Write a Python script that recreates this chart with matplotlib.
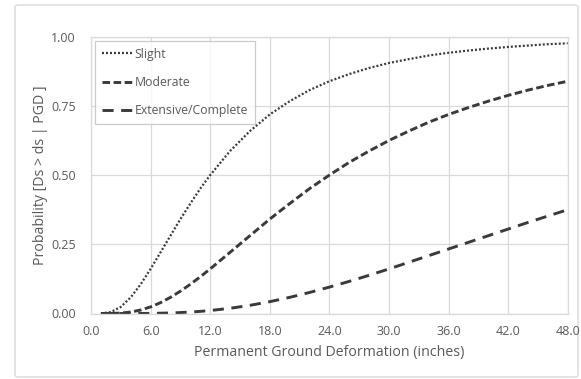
import matplotlib
matplotlib.use("Agg")
import matplotlib.pyplot as plt
from matplotlib.patches import FancyBboxPatch

# Permanent ground deformation (inches) and probability of reaching each damage state
pgd = [1, 2, 3, 4, 5, 6, 7, 8, 9, 10, 11, 12, 14, 16, 18, 20, 22, 24, 26, 28,
       30, 32, 34, 36, 38, 40, 42, 44, 46, 48]

slight = [0.0002, 0.0052, 0.0238, 0.0583, 0.1055, 0.161, 0.221, 0.281, 0.341,
          0.397, 0.451, 0.500, 0.587, 0.659, 0.719, 0.767, 0.807, 0.839, 0.865,
          0.887, 0.905, 0.919, 0.932, 0.942, 0.950, 0.957, 0.963, 0.968, 0.973,
          0.976]

moderate = [0.0000, 0.0002, 0.0015, 0.0052, 0.0125, 0.0238, 0.0392, 0.0583,
            0.0806, 0.1055, 0.1325, 0.161, 0.221, 0.281, 0.341, 0.397, 0.451,
            0.500, 0.546, 0.587, 0.625, 0.659, 0.691, 0.719, 0.744, 0.767,
            0.788, 0.807, 0.824, 0.839]

extensive = [0.0000, 0.0000, 0.0000, 0.0001, 0.0002, 0.0005, 0.0011, 0.0020,
             0.0034, 0.0052, 0.0077, 0.0108, 0.0188, 0.0295, 0.0427, 0.0583,
             0.0759, 0.0953, 0.116, 0.138, 0.161, 0.185, 0.209, 0.233, 0.257,
             0.281, 0.305, 0.329, 0.352, 0.375]

series_names = ["Slight", "Moderate", "Extensive/Complete"]
x_ticks = [0, 6, 12, 18, 24, 30, 36, 42, 48]
y_ticks = [0.0, 0.25, 0.5, 0.75, 1.0]

plt.rcParams["font.family"] = ["Open Sans", "DejaVu Sans"]
text_gray = "#595959"
grid_gray = "#d9d9d9"
line_col = "#3a3a3a"

fig = plt.figure(figsize=(5.81, 3.79), dpi=100)
fig.patch.set_facecolor("white")

# chart-area border
frame = FancyBboxPatch((15 / 581, 1 - 377 / 379), (578 - 15) / 581, (377 - 5) / 379,
                       boxstyle="round,pad=0,rounding_size=0.006",
                       transform=fig.transFigure, facecolor="none",
                       edgecolor=grid_gray, linewidth=1.0, zorder=-1)
fig.patches.append(frame)

ax = fig.add_axes([91 / 581, 1 - 313.5 / 379, (567.7 - 91) / 581, (313.5 - 36.7) / 379])
ax.set_facecolor("none")

ax.plot(pgd, slight, color=line_col, lw=1.6, linestyle=(0, (0.9, 0.9)),
        dash_capstyle="butt", label=series_names[0])
ax.plot(pgd, moderate, color=line_col, lw=2.1, linestyle=(0, (2.6, 1.2)),
        dash_capstyle="butt", label=series_names[1])
ax.plot(pgd, extensive, color=line_col, lw=2.1, linestyle=(0, (3.8, 2.6)),
        dash_capstyle="butt", label=series_names[2])

ax.set_xlim(0, 48)
ax.set_ylim(0, 1.0)
ax.set_xticks(x_ticks)
ax.set_xticklabels([f"{v:.1f}" for v in x_ticks])
ax.set_yticks(y_ticks)
ax.set_yticklabels([f"{v:.2f}" for v in y_ticks])
ax.tick_params(length=0, colors=text_gray, labelsize=9, pad=8)
ax.tick_params(axis="y", pad=11)
ax.grid(True, color=grid_gray, lw=0.9)
ax.set_axisbelow(True)
for s in ax.spines.values():
    s.set_color(grid_gray)
    s.set_linewidth(0.9)

ax.set_xlabel("Permanent Ground Deformation (inches)", color=text_gray, fontsize=10.2, labelpad=5)
ax.set_ylabel("Probability [Ds > ds | PGD ]", color=text_gray, fontsize=10.2, labelpad=2)

leg = ax.legend(loc="upper left", bbox_to_anchor=(0.008, 0.985), fontsize=8.8,
                frameon=True, fancybox=False, labelspacing=1.25, handlelength=2.6,
                handletextpad=0.1, borderpad=0.55, borderaxespad=0)
leg.get_frame().set_edgecolor("#bfbfbf")
leg.get_frame().set_linewidth(0.9)
for t in leg.get_texts():
    t.set_color(text_gray)

fig.savefig("out.png", dpi=100)
